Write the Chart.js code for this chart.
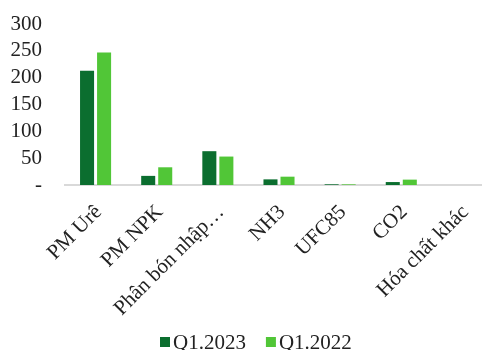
<!DOCTYPE html>
<html><head><meta charset="utf-8">
<script src="https://cdn.jsdelivr.net/npm/chart.js@4"></script>
<style>html,body{margin:0;padding:0;background:#fff;overflow:hidden}#wrap{width:482px;height:350px;overflow:hidden}</style>
</head><body><div id="wrap"><canvas id="c" width="493" height="350"></canvas></div>
<script>
const categories = ["PM Urê", "PM NPK", "Phân bón nhập…", "NH3", "UFC85", "CO2", "Hóa chất khác"];
const seriesNames = ["Q1.2023", "Q1.2022"];
const q12023 = [213, 17, 63, 10.5, 1.3, 5.5, 0];
const q12022 = [247, 33, 53, 15.5, 1.2, 10, 0];
const yTicks = [0, 50, 100, 150, 200, 250, 300];
const colors = ['#0b6e2f', '#51c637'];
const FONT = 'Liberation Serif';

const condenseX = {
  id: 'condenseX',
  beforeDraw(chart) {
    const sx = chart.scales.x;
    if (sx && !sx._condensed) {
      const orig = sx.draw;
      sx.draw = function (area) {
        const ctx = this.ctx;
        ctx.save();
        ctx.letterSpacing = '-1px';
        orig.call(this, area);
        ctx.restore();
      };
      sx._condensed = true;
    }
  }
};

const customLegend = {
  id: 'customLegend',
  afterDraw(chart) {
    const ctx = chart.ctx;
    ctx.save();
    ctx.font = `21px "${FONT}"`;
    ctx.textBaseline = 'middle';
    let x = 160;
    const y = 342;
    chart.data.datasets.forEach((ds) => {
      ctx.fillStyle = ds.backgroundColor;
      ctx.fillRect(x, y - 5, 10, 10);
      ctx.fillStyle = '#222';
      ctx.fillText(ds.label, x + 13, y + 1);
      x += 13 + ctx.measureText(ds.label).width + 20;
    });
    ctx.restore();
  }
};

new Chart(document.getElementById('c'), {
  type: 'bar',
  data: {
    labels: categories,
    datasets: [
      {label: seriesNames[0], data: q12023, backgroundColor: colors[0], borderWidth: 0},
      {label: seriesNames[1], data: q12022, backgroundColor: colors[1], borderWidth: 0}
    ]
  },
  plugins: [condenseX, customLegend],
  options: {
    responsive: false,
    animation: false,
    layout: {padding: {top: 24, right: 0, left: 0, bottom: 0}},
    datasets: {bar: {categoryPercentage: 0.557, barPercentage: 0.824}},
    plugins: {
      legend: {display: false},
      tooltip: {enabled: false}
    },
    scales: {
      x: {
        grid: {display: false, drawTicks: false},
        border: {display: true, color: '#d9d9d9', width: 2},
        afterFit: (s) => { s.height = 165; s.paddingLeft = 0; s.paddingRight = 0; },
        ticks: {minRotation: 45, maxRotation: 45, autoSkip: false, color: '#222', font: {family: FONT, size: 21}, padding: 15, labelOffset: 3}
      },
      y: {
        min: 0, max: 300,
        afterBuildTicks: (s) => { s.ticks = yTicks.map(v => ({value: v})); },
        afterFit: (s) => { s.width = 65; s.paddingTop = 0; s.paddingBottom = 0; },
        grid: {display: false, drawTicks: false},
        border: {display: false},
        ticks: {autoSkip: false, color: '#222', font: {family: FONT, size: 21}, padding: 23,
          callback: (v) => v === 0 ? '-' : v}
      }
    }
  }
});
</script></body></html>
